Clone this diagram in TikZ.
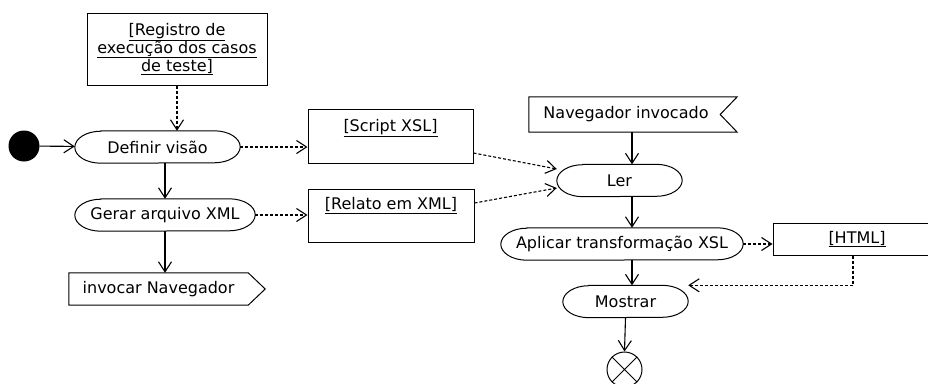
\documentclass[tikz,border=0pt]{standalone}
\usepackage{fontspec}
\setmainfont{DejaVu Sans}
\usetikzlibrary{arrows.meta,calc}

\tikzset{
  base/.style={line width=1pt, draw=black},
  % action node: box with elliptical ends
  act/.style={rectangle, inner sep=0pt, minimum height=32pt, minimum width=#1,
    append after command={\pgfextra{\draw[base]
      ([xshift=26pt]\tikzlastnode.north west) -- ([xshift=-26pt]\tikzlastnode.north east)
      arc[start angle=90, end angle=-90, x radius=26pt, y radius=16pt]
      -- ([xshift=26pt]\tikzlastnode.south west)
      arc[start angle=270, end angle=90, x radius=26pt, y radius=16pt] -- cycle;}}},
  objbox/.style={base, rectangle, inner sep=0pt},
  ctrl/.style={line width=1.1pt, -{Straight Barb[length=10pt,width=13pt,line width=1.1pt]}},
  flow/.style={line width=1.1pt, dash pattern=on 3pt off 2pt,
    -{Straight Barb[length=10pt,width=13pt,line width=1.1pt]}},
}

\begin{document}
\begin{tikzpicture}[x=1pt, y=-1pt, font=\fontsize{16}{18}\selectfont]
\useasboundingbox (0,0) rectangle (928,383);

% initial and final nodes
\node[circle, fill=black, minimum size=31pt, inner sep=0pt] (init) at (24,146) {};
\node[circle, base, minimum size=35pt, inner sep=0pt] (fin) at (624.5,369.5) {};
\draw[base] (fin.north west) -- (fin.south east) (fin.north east) -- (fin.south west);

% actions
\node[act=165pt] (def) at (157.5,147) {Definir visão};
\node[act=180pt] (ger) at (165,215) {Gerar arquivo XML};
\node[act=125pt] (ler) at (619.5,180.5) {Ler};
\node[act=242pt] (apl) at (622,244) {Aplicar transformação XSL};
\node[act=125pt] (mos) at (625.5,301.5) {Mostrar};

% object nodes
\node[objbox, minimum width=180pt, minimum height=72pt, align=center] (reg) at (177,49)
  {\underline{[Registro de}\\\underline{execução dos casos}\\\underline{de teste]}};
\node[objbox, minimum width=165pt, minimum height=54pt] (xsl) at (390.5,136) {};
\node[anchor=north] (xslt) at ([yshift=-7pt]xsl.north) {\underline{[Script XSL]}};
\node[objbox, minimum width=166pt, minimum height=53pt] (rel) at (391,215.5) {};
\node[anchor=north] (relt) at ([yshift=-5pt]rel.north) {\underline{[Relato em XML]}};
\node[objbox, minimum width=168pt, minimum height=32pt] (html) at (857,239) {\underline{[HTML]}};

% signals
\node[rectangle, inner sep=0pt, minimum width=179pt, minimum height=32pt] (inv) at (158.5,289) {invocar Navegador};
\draw[base] (inv.north west) -- (inv.north east) -- ([xshift=17pt]inv.east)
  -- (inv.south east) -- (inv.south west) -- cycle;
\node[rectangle, inner sep=0pt, minimum width=194pt, minimum height=35pt] (nav) at (626,114.5) {Navegador invocado};
\draw[base] (nav.north west) -- ([xshift=14pt]nav.north east) -- ([xshift=-3pt]nav.east)
  -- ([xshift=14pt]nav.south east) -- (nav.south west) -- cycle;

\coordinate (spine) at (632,0);

% control flow
\draw[ctrl] (init) -- (def);
\draw[ctrl] (def.south -| ger.north) -- (ger.north);
\draw[ctrl] (ger.south) -- (ger.south |- inv.north);
\draw[ctrl] (nav.south -| spine) -- (ler.north -| spine);
\draw[ctrl] (ler.south -| spine) -- (apl.north -| spine);
\draw[ctrl] (apl.south -| spine) -- (mos.north -| spine);
\draw[ctrl] (mos.south) -- (fin.north);

% object flow
\draw[flow] (reg.south) -- (reg.south |- def.north);
\draw[flow] (def.east) -- (def.east -| xsl.west);
\draw[flow] (ger.east) -- (ger.east -| rel.west);
\draw[flow] ([yshift=-17pt]xsl.east) -- ([yshift=11.5pt]ler.west);
\draw[flow] ([yshift=12.5pt]rel.east) -- ([yshift=-7.5pt]ler.west);
\draw[flow] (apl.east) -- (apl.east -| html.west);
\draw[flow] ([xshift=-4pt]html.south) |- (mos.north east);
\end{tikzpicture}
\end{document}
